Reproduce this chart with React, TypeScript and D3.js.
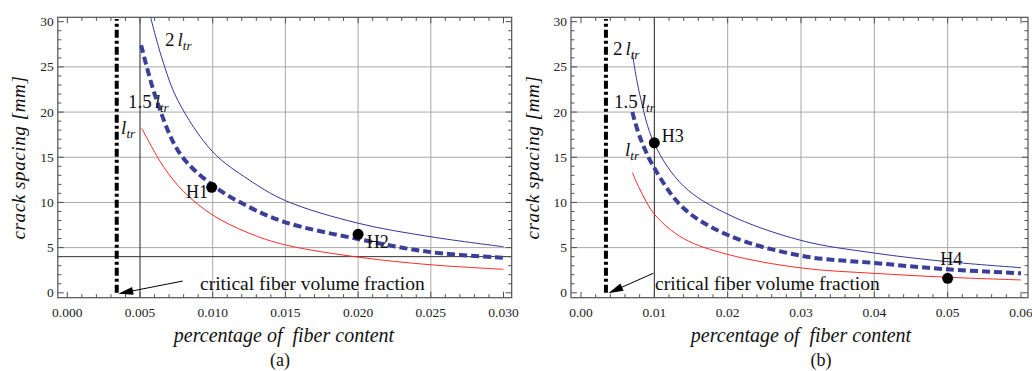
import React from "react";
import * as d3 from "d3";

// ---------------- data ----------------
const yTickValues = [0, 5, 10, 15, 20, 25, 30];
const yGridValues = [5, 10, 15, 20, 25];

// panel (a)
const aTickValues = [0, 0.005, 0.01, 0.015, 0.02, 0.025, 0.03];
const aTickLabels = ["0.000", "0.005", "0.010", "0.015", "0.020", "0.025", "0.030"];
const aGridValues = [0.01, 0.015, 0.02, 0.025];
const aX_ltr = [0.00512, 0.0066, 0.008, 0.01, 0.0125, 0.015, 0.02, 0.025, 0.03];
const aY_ltr = [18.2, 14.0, 11.2, 8.6, 6.6, 5.3, 3.95, 3.1, 2.6];
const aX_15 = [0.00508, 0.00615, 0.00775, 0.01, 0.0125, 0.015, 0.02, 0.025, 0.03];
const aY_15 = [27.4, 21.3, 15.4, 11.9, 9.5, 7.8, 5.95, 4.5, 3.88];
const aX_2 = [0.00573, 0.0065, 0.0076, 0.01, 0.0125, 0.015, 0.02, 0.025, 0.03];
const aY_2 = [30.5, 26.0, 21.3, 15.6, 12.5, 10.2, 7.7, 6.2, 5.1];
const aPointsX = [0.00993, 0.02];
const aPointsY = [11.67, 6.47];
const aPointNames = ["H1", "H2"];
const aCritical = 0.0034;
const aRefX = 0.005;
const aRefY = 4;

// panel (b)
const bTickValues = [0, 0.01, 0.02, 0.03, 0.04, 0.05, 0.06];
const bTickLabels = ["0.00", "0.01", "0.02", "0.03", "0.04", "0.05", "0.06"];
const bGridValues = [0.02, 0.03, 0.04, 0.05];
const bX = [0.007, 0.008, 0.01, 0.014, 0.02, 0.03, 0.04, 0.05, 0.06];
const bY_ltr = [13.3, 11.5, 8.7, 6.0, 4.25, 2.75, 2.15, 1.72, 1.42];
const bY_15 = [20.0, 17.3, 13.8, 9.35, 6.4, 4.1, 3.3, 2.6, 2.16];
const bY_2 = [26.5, 22.0, 16.5, 11.8, 8.7, 5.8, 4.4, 3.44, 2.78];
const bPointsX = [0.01, 0.05];
const bPointsY = [16.6, 1.6];
const bPointNames = ["H3", "H4"];
const bCritical = 0.0034;
const bRefX = 0.01;

const yLabel = "crack spacing [mm]";
const xLabel = "percentage of  fiber content";
const criticalText = "critical fiber volume fraction";

// ---------------- layout ----------------
const FONT = "'Liberation Serif', 'Times New Roman', serif";
const RED = "#ff2a2a";
const BLUE = "#34349c";
const DASHBLUE = "#3c3f98";
const GRID = "#a8a8a8";
const FRAME = "#505050";

type PanelCfg = {
  frame: { l: number; r: number; t: number; b: number };
  xDomain: [number, number];
  xRange: [number, number];
  ticks: number[];
  tickLabels: string[];
  minorStep: number;
  grid: number[];
  series: { xs: number[]; ys: number[]; kind: "red" | "blue" | "dash" }[];
  pts: { xs: number[]; ys: number[]; names: string[] };
  critical: number;
  refX: number;
  refY?: number;
  labels: { text: "2" | "1.5" | "1"; x: number; y: number }[];
  ptLabels: { x: number; y: number; anchor: string }[];
  arrow: { x1: number; y1: number; x2: number; y2: number };
  critTextPos: { x: number; y: number };
  yLabelX: number;
  xLabelX: number;
  capX: number;
  caption: string;
};

const yScale = d3.scaleLinear().domain([0, 30]).range([292.8, 21.7]);

function Ltr({ x, y, prefix }: { x: number; y: number; prefix: string }) {
  return (
    <text x={x} y={y} fontFamily={FONT} fontSize={19} fill="#111">
      {prefix ? <tspan>{prefix}</tspan> : null}
      <tspan fontStyle="italic" dx={prefix ? 3 : 0}>l</tspan>
      <tspan fontStyle="italic" fontSize={13} dy={4}>tr</tspan>
    </text>
  );
}

function Panel({ cfg }: { cfg: PanelCfg }) {
  const x = d3.scaleLinear().domain(cfg.xDomain).range(cfg.xRange);
  const y = yScale;
  const { l, r, t, b } = cfg.frame;
  const clipId = "clip" + Math.round(l);
  const line = d3
    .line<[number, number]>()
    .x((d) => x(d[0]))
    .y((d) => y(d[1]))
    .curve(d3.curveCatmullRom.alpha(0.5));
  const minor = d3.range(0, cfg.ticks[cfg.ticks.length - 1] + cfg.minorStep / 2, cfg.minorStep);
  const yMinor = d3.range(0, 31, 1);
  const MAJ = 6;
  const MIN = 3.5;
  const arrowAngle = Math.atan2(y(cfg.arrow.y2) - y(cfg.arrow.y1), x(cfg.arrow.x2) - x(cfg.arrow.x1));
  const tipX = x(cfg.arrow.x2);
  const tipY = y(cfg.arrow.y2);
  const aLen = 15;
  const aW = 4;
  const bx = tipX - aLen * Math.cos(arrowAngle);
  const by = tipY - aLen * Math.sin(arrowAngle);
  const px = -Math.sin(arrowAngle) * aW;
  const py = Math.cos(arrowAngle) * aW;
  return (
    <g>
      <defs>
        <clipPath id={clipId}>
          <rect x={l} y={t} width={r - l} height={b - t} />
        </clipPath>
      </defs>
      {/* grid */}
      {cfg.grid.map((g) => (
        <line key={"gx" + g} x1={x(g)} x2={x(g)} y1={t} y2={b} stroke={GRID} strokeWidth={1} />
      ))}
      {yGridValues.map((g) => (
        <line key={"gy" + g} x1={l} x2={r} y1={y(g)} y2={y(g)} stroke={GRID} strokeWidth={1} />
      ))}
      {/* reference lines */}
      <line x1={x(cfg.refX)} x2={x(cfg.refX)} y1={t} y2={b} stroke="#222" strokeWidth={1} />
      {cfg.refY !== undefined ? (
        <line x1={l} x2={r} y1={y(cfg.refY)} y2={y(cfg.refY)} stroke="#333" strokeWidth={1} />
      ) : null}
      {/* frame ticks */}
      {minor.map((v, i) => {
        const isMaj = cfg.ticks.some((tv) => Math.abs(tv - v) < cfg.minorStep / 10);
        const len = isMaj ? MAJ : MIN;
        return (
          <g key={"mx" + i}>
            <line x1={x(v)} x2={x(v)} y1={b} y2={b - len} stroke={FRAME} strokeWidth={1} />
            <line x1={x(v)} x2={x(v)} y1={t} y2={t + len} stroke={FRAME} strokeWidth={1} />
          </g>
        );
      })}
      {yMinor.map((v) => {
        const isMaj = v % 5 === 0;
        const len = isMaj ? MAJ : MIN;
        return (
          <g key={"my" + v}>
            <line x1={l} x2={l + len} y1={y(v)} y2={y(v)} stroke={FRAME} strokeWidth={1} />
            <line x1={r} x2={r - len} y1={y(v)} y2={y(v)} stroke={FRAME} strokeWidth={1} />
          </g>
        );
      })}
      {/* curves */}
      <g clipPath={`url(#${clipId})`}>
        {cfg.series.map((s, i) => {
          const pts = s.xs.map((xv, j) => [xv, s.ys[j]] as [number, number]);
          const d = line(pts) || "";
          if (s.kind === "red") return <path key={i} d={d} fill="none" stroke={RED} strokeWidth={1} />;
          if (s.kind === "blue") return <path key={i} d={d} fill="none" stroke={BLUE} strokeWidth={1} />;
          return <path key={i} d={d} fill="none" stroke={DASHBLUE} strokeWidth={4} strokeDasharray="8 4" />;
        })}
      </g>
      {/* critical dash-dot */}
      <line
        x1={x(cfg.critical)}
        x2={x(cfg.critical)}
        y1={y(0)}
        y2={y(30.3)}
        stroke="#000"
        strokeWidth={4}
        strokeDasharray="8 3 3 3"
      />
      {/* frame */}
      <rect x={l} y={t} width={r - l} height={b - t} fill="none" stroke={FRAME} strokeWidth={1.2} />
      {/* points */}
      {cfg.pts.xs.map((xv, i) => (
        <circle key={"p" + i} cx={x(xv)} cy={y(cfg.pts.ys[i])} r={5.5} fill="#000" />
      ))}
      {cfg.ptLabels.map((p, i) => (
        <text key={"pl" + i} x={x(p.x)} y={y(p.y)} fontFamily={FONT} fontSize={18} textAnchor={p.anchor} fill="#111">
          {cfg.pts.names[i]}
        </text>
      ))}
      {/* curve labels */}
      {cfg.labels.map((lb, i) => (
        <Ltr key={"lb" + i} x={x(lb.x)} y={y(lb.y)} prefix={lb.text === "1" ? "" : lb.text} />
      ))}
      {/* arrow */}
      <line x1={x(cfg.arrow.x1)} y1={y(cfg.arrow.y1)} x2={bx} y2={by} stroke="#000" strokeWidth={1} />
      <polygon points={`${tipX},${tipY} ${bx + px},${by + py} ${bx - px},${by - py}`} fill="#000" />
      <text x={x(cfg.critTextPos.x)} y={y(cfg.critTextPos.y)} fontFamily={FONT} fontSize={19.5} fill="#111">
        {criticalText}
      </text>
      {/* tick labels */}
      {cfg.ticks.map((tv, i) => (
        <text key={"tl" + i} x={x(tv)} y={317} fontFamily={FONT} fontSize={13.5} textAnchor="middle" fill="#222">
          {cfg.tickLabels[i]}
        </text>
      ))}
      {yTickValues.map((v) => (
        <text key={"yl" + v} x={l - 4} y={y(v) + 4.5} fontFamily={FONT} fontSize={13.5} textAnchor="end" fill="#222">
          {v}
        </text>
      ))}
      {/* axis titles */}
      <text
        transform={`translate(${cfg.yLabelX},157.5) rotate(-90)`}
        fontFamily={FONT}
        fontSize={19}
        fontStyle="italic"
        textAnchor="middle"
        letterSpacing={0.6}
        fill="#111"
      >
        {yLabel}
      </text>
      <text
        x={cfg.xLabelX}
        y={342}
        fontFamily={FONT}
        fontSize={20}
        fontStyle="italic"
        textAnchor="middle"
        style={{ whiteSpace: "pre" }}
        fill="#111"
      >
        {xLabel}
      </text>
      <text x={cfg.capX} y={366} fontFamily={FONT} fontSize={18} textAnchor="middle" fill="#111">
        {cfg.caption}
      </text>
    </g>
  );
}

const panelA: PanelCfg = {
  frame: { l: 57.8, r: 511.7, t: 17.3, b: 297.7 },
  xDomain: [0, 0.03],
  xRange: [67.3, 503.5],
  ticks: aTickValues,
  tickLabels: aTickLabels,
  minorStep: 0.001,
  grid: aGridValues,
  series: [
    { xs: aX_ltr, ys: aY_ltr, kind: "red" },
    { xs: aX_2, ys: aY_2, kind: "blue" },
    { xs: aX_15, ys: aY_15, kind: "dash" },
  ],
  pts: { xs: aPointsX, ys: aPointsY, names: aPointNames },
  critical: aCritical,
  refX: aRefX,
  refY: aRefY,
  labels: [
    { text: "2", x: 0.00672, y: 27.3 },
    { text: "1.5", x: 0.00417, y: 20.45 },
    { text: "1", x: 0.0037, y: 17.57 },
  ],
  ptLabels: [
    { x: 0.00968, y: 10.49, anchor: "end" },
    { x: 0.0206, y: 4.96, anchor: "start" },
  ],
  arrow: { x1: 0.00794, y1: 1.3, x2: 0.0035, y2: -0.1 },
  critTextPos: { x: 0.00913, y: 0.31 },
  yLabelX: 25,
  xLabelX: 284,
  capX: 280,
  caption: "(a)",
};

const panelB: PanelCfg = {
  frame: { l: 571, r: 1028, t: 17.3, b: 297.7 },
  xDomain: [0, 0.06],
  xRange: [581, 1021],
  ticks: bTickValues,
  tickLabels: bTickLabels,
  minorStep: 0.002,
  grid: bGridValues,
  series: [
    { xs: bX, ys: bY_ltr, kind: "red" },
    { xs: bX, ys: bY_2, kind: "blue" },
    { xs: bX, ys: bY_15, kind: "dash" },
  ],
  pts: { xs: bPointsX, ys: bPointsY, names: bPointNames },
  critical: bCritical,
  refX: bRefX,
  labels: [
    { text: "2", x: 0.00436, y: 26.3 },
    { text: "1.5", x: 0.0045, y: 20.45 },
    { text: "1", x: 0.006, y: 15.1 },
  ],
  ptLabels: [
    { x: 0.011, y: 16.7, anchor: "start" },
    { x: 0.049, y: 3.08, anchor: "start" },
  ],
  arrow: { x1: 0.00986, y1: 2.16, x2: 0.00372, y2: -0.05 },
  critTextPos: { x: 0.0101, y: 0.31 },
  yLabelX: 539,
  xLabelX: 801,
  capX: 821,
  caption: "(b)",
};

export default function App() {
  return (
    <svg width={1032} height={371} style={{ position: "absolute", left: 0, top: 0, background: "#fff" }}>
      <rect x={0} y={0} width={1032} height={371} fill="#fff" />
      <Panel cfg={panelA} />
      <Panel cfg={panelB} />
    </svg>
  );
}
